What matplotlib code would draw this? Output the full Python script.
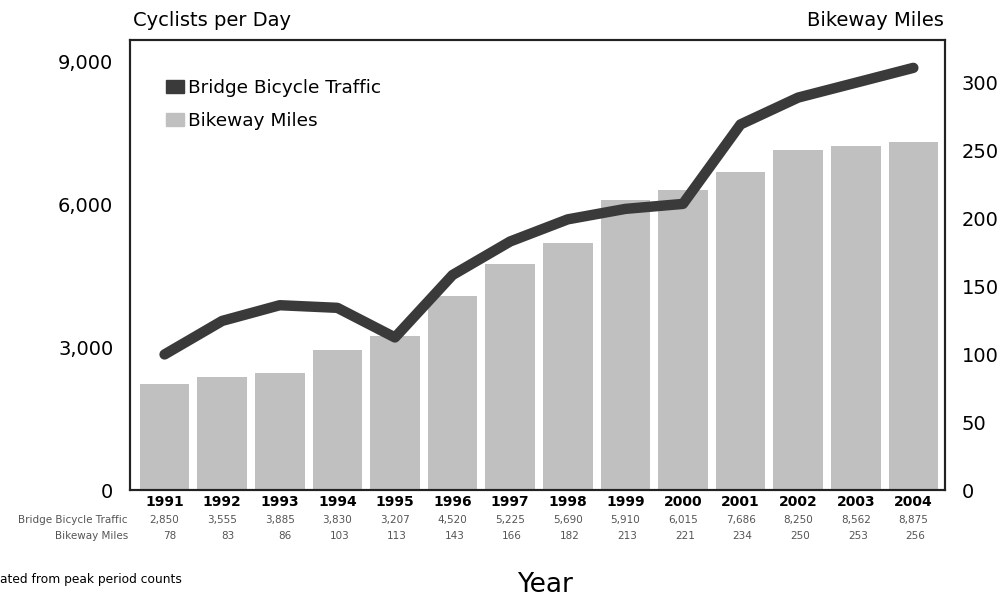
import numpy as np
import matplotlib.pyplot as plt
from matplotlib.patches import Patch

# dados
anos = ['1991', '1992', '1993', '1994', '1995', '1996', '1997',
        '1998', '1999', '2000', '2001', '2002', '2003', '2004']
trafego = [2850, 3555, 3885, 3830, 3207, 4520, 5225,
           5690, 5910, 6015, 7686, 8250, 8562, 8875]
milhas = [78, 83, 86, 103, 113, 143, 166, 182, 213, 221, 234, 250, 253, 256]

cor_linha = '#3a3a3a'
cor_barra = '#c0c0c0'

fig = plt.figure(figsize=(10.03, 6), dpi=100)
ax = fig.add_axes([0.1296, 0.1833, 0.8126, 0.75])
ax2 = ax.twinx()

x = np.arange(len(anos))

# barras no eixo da direita
ax2.bar(x, milhas, width=0.86, color=cor_barra, zorder=1)
ax2.set_ylim(0, 331)
ax2.set_yticks([0, 50, 100, 150, 200, 250, 300])
ax2.tick_params(axis='y', length=0, labelsize=14, pad=12)

# linha no eixo da esquerda (por cima das barras)
ax.set_zorder(ax2.get_zorder() + 1)
ax.patch.set_visible(False)
ax.plot(x, trafego, color=cor_linha, lw=7.5, solid_capstyle='round',
        solid_joinstyle='round')
ax.set_ylim(0, 9460)
ax.set_yticks([0, 3000, 6000, 9000])
ax.set_yticklabels(['0', '3,000', '6,000', '9,000'])
ax.tick_params(axis='y', length=0, labelsize=14, pad=12)
ax.set_xlim(-0.6, 13.55)
ax.set_xticks([])
ax2.set_xticks([])

for a in (ax, ax2):
    for s in a.spines.values():
        s.set_color('#222222')
        s.set_linewidth(1.5)

# titulos dos eixos
fig.text(0.1326, 0.965, 'Cyclists per Day', fontsize=14, va='center', ha='left')
fig.text(0.941, 0.965, 'Bikeway Miles', fontsize=14, va='center', ha='right')

# legenda
handles = [Patch(color=cor_linha), Patch(color=cor_barra)]
ax.legend(handles, ['Bridge Bicycle Traffic', 'Bikeway Miles'],
          loc='upper left', bbox_to_anchor=(0.035, 0.93), frameon=False,
          fontsize=13.3, handlelength=1.0, handleheight=0.7,
          handletextpad=0.2, labelspacing=0.8, borderaxespad=0)

# tabela por baixo
for i in range(len(anos)):
    xf = ax.transData.transform((x[i], 0))[0] / fig.bbox.width
    fig.text(xf, 1 - 502 / 600, anos[i], fontsize=10, fontweight='bold',
             ha='center', va='center')
    fig.text(xf, 1 - 520 / 600, f'{trafego[i]:,}', fontsize=7.5,
             color='#555555', ha='center', va='center')
    fig.text(xf + 0.012, 1 - 536 / 600, str(milhas[i]), fontsize=7.5,
             color='#555555', ha='right', va='center')

fig.text(128 / 1003, 1 - 520 / 600, 'Bridge Bicycle Traffic', fontsize=7.5,
         color='#555555', ha='right', va='center')
fig.text(128 / 1003, 1 - 536 / 600, 'Bikeway Miles', fontsize=7.5,
         color='#555555', ha='right', va='center')

fig.text(0.0, 1 - 580 / 600, 'ated from peak period counts',
         fontsize=8.8, ha='left', va='center')
fig.text(0.543, 1 - 585 / 600, 'Year', fontsize=19, ha='center', va='center')

fig.savefig('out.png', dpi=100)
